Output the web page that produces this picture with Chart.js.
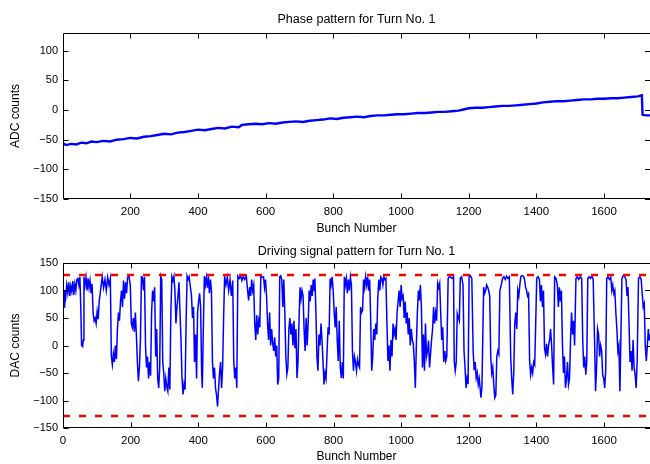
<!DOCTYPE html>
<html lang="en">
<head>
<meta charset="UTF-8">
<title>Phase and driving signal pattern</title>
<script src="https://cdn.jsdelivr.net/npm/chart.js"></script>
<style>
    body { margin: 0; width: 650px; height: 464px; overflow: hidden; background: #fff; position: relative; }
    canvas { position: absolute; left: 0; }
    #phaseChart { top: 0; }
    #driveChart { top: 236px; }
</style>
</head>
<body>
<canvas id="phaseChart" width="650" height="236"></canvas>
<canvas id="driveChart" width="650" height="228"></canvas>

<script>
// ---- data ----
const BUNCH_MAX = 1736;
const X_TICKS = [200, 400, 600, 800, 1000, 1200, 1400, 1600];
const X_TICKS_BOTTOM = [0, 200, 400, 600, 800, 1000, 1200, 1400, 1600];
const ADC_TICKS = [-150, -100, -50, 0, 50, 100];
const DAC_TICKS = [-150, -100, -50, 0, 50, 100, 150];
const DAC_LIMIT = 128;

// phase pattern (bunch, ADC counts)
const PHASE = [
    [1,-56],[10,-59],[25,-57],[40,-58],[55,-55],[70,-56],[85,-53],[100,-54],[120,-52],[140,-53],
    [160,-50],[180,-49],[200,-47],[220,-48],[240,-45],[260,-44],[280,-42],[300,-40],[320,-41],[340,-38],
    [360,-37],[380,-35],[400,-33],[420,-34],[440,-32],[460,-30],[480,-31],[500,-28],[520,-29],[530,-25],
    [550,-24],[570,-23],[590,-24],[610,-22],[630,-23],[650,-21],[670,-20],[690,-19],[710,-20],[730,-18],
    [750,-17],[770,-16],[790,-14],[810,-15],[830,-13],[850,-12],[870,-11],[890,-12],[910,-10],[930,-9],
    [950,-9],[970,-8],[990,-7],[1010,-7],[1030,-6],[1050,-5],[1070,-5],[1090,-4],[1110,-3],[1130,-3],
    [1150,-2],[1170,-1],[1185,1],[1200,3],[1220,4],[1240,4],[1260,5],[1280,6],[1300,7],[1320,7],
    [1340,8],[1360,9],[1380,10],[1400,11],[1420,13],[1440,14],[1460,15],[1480,15],[1500,16],[1520,17],
    [1540,18],[1560,18],[1580,19],[1600,19],[1620,20],[1640,20],[1660,21],[1680,22],[1700,23],[1712,25],
    [1714,-8],[1725,-9],[1736,-9]
];

// driving signal (bunch, DAC counts)
const DRIVE = [
    [1,94],[3,70],[5,100],[8,88],[11,110],[14,96],[17,115],[20,90],[23,108],[26,98],[29,117],[32,92],[35,112],[38,100],[41,120],[44,122],[47,110],[50,125],[53,58],[55,0],[58,-2],[60,10],[62,125],[65,110],[68,124],[71,100],[74,122],[77,105],[80,118],[83,95],[86,112],[89,60],[92,45],[95,50],[98,40],[101,62],[104,48],[107,80],[110,95],[113,110],[116,125],[120,105],[124,120],[128,100],[132,124],[136,110],[140,122],[143,-20],[146,-35],[149,-15],[152,-30],[155,0],[158,-25],[161,30],[164,60],[167,45],[170,80],[173,100],[176,70],[179,118],[182,85],[185,115],[188,95],[191,124],[195,126],[199,110],[202,40],[205,33],[208,50],[211,25],[214,60],[217,20],[220,-30],[223,-65],[226,-40],[229,10],[232,125],[235,124],[238,100],[241,125],[244,0],[247,-40],[250,-20],[253,-60],[256,-30],[259,-55],[262,60],[265,100],[268,80],[271,106],[274,-20],[277,30],[280,-60],[283,-77],[286,-40],[289,126],[292,120],[295,-30],[298,-50],[301,-83],[304,-60],[307,-75],[310,-83],[313,-40],[316,-80],[319,60],[322,125],[325,118],[328,126],[331,100],[334,40],[337,70],
    [340,90],[343,115],[346,60],[349,10],[352,-60],[355,-89],[358,-70],[361,-80],[364,40],[367,126],[370,120],[373,125],[376,110],[380,90],[383,50],[386,70],[389,-30],[392,20],[395,-60],[398,60],[401,80],[404,95],[407,70],[410,-50],[412,-77],[415,30],[418,126],[421,110],[424,124],[427,105],[430,126],[433,95],[436,120],[439,100],[442,-30],[445,-60],[448,-40],[451,-77],[454,-90],[457,-111],[460,-80],[463,-50],[466,-30],[469,-77],[472,-40],[475,50],[478,126],[482,110],[486,124],[490,100],[494,120],[498,90],[502,118],[505,-28],[508,-60],[511,-40],[514,-77],[517,126],[521,122],[525,127],[529,118],[533,126],[537,120],[542,126],[546,100],[549,82],[552,106],[555,90],[558,120],[561,100],[564,110],[567,40],[570,10],[573,55],[576,20],[579,45],[582,33],[585,126],[589,124],[593,125],[596,105],[599,120],[602,90],[605,40],[608,10],[611,60],[614,0],[617,30],[620,5],[623,-10],[626,15],[629,-20],[632,0],[635,-71],[638,-60],[641,125],[644,127],[647,120],[650,70],[653,120],[656,60],[659,-20],[662,-52],[665,-40],[668,30],[671,50],[674,20],[677,40],[680,0],[683,45],[686,-5],[689,30],
    [692,-59],[695,-30],[698,45],[701,106],[704,85],[707,100],[710,90],[713,30],[716,-10],[719,50],[722,0],[725,40],[728,100],[731,80],[734,110],[737,90],[740,120],[743,100],[745,122],[748,60],[751,-20],[754,-46],[757,20],[760,0],[763,40],[766,10],[769,-30],[772,-71],[775,-50],[778,-60],[781,-10],[784,33],[787,20],[790,122],[793,110],[796,125],[799,100],[802,60],[805,33],[808,70],[811,10],[814,-28],[817,45],[820,-40],[823,-59],[826,-30],[829,-60],[832,125],[835,110],[838,122],[841,95],[844,120],[847,100],[850,124],[853,110],[856,-10],[859,-46],[862,-20],[865,-30],[868,-46],[871,-25],[874,-35],[877,-40],[880,70],[883,60],[886,64],[889,120],[892,105],[895,125],[898,110],[901,125],[904,100],[907,120],[910,45],[913,-46],[916,-20],[919,30],[922,10],[925,40],[928,20],[931,88],[934,120],[937,100],[940,125],[943,122],[946,110],[949,125],[952,120],[955,122],[958,40],[961,-28],[964,0],[967,-46],[970,10],[973,-20],[976,40],[979,20],[982,30],[985,10],[988,60],[991,80],[994,100],[997,70],[1000,110],[1003,85],[1006,90],[1009,50],[1012,80],[1015,40],[1018,60],[1021,20],[1024,50],[1027,0],[1030,30],[1033,10],[1036,3],[1039,-30],
    [1042,-77],[1045,0],[1048,60],[1051,100],[1054,82],[1057,110],[1060,70],[1063,-40],[1066,20],[1069,-46],[1072,40],[1075,-20],[1078,-10],[1081,9],[1084,-40],[1087,-15],[1090,10],[1093,30],[1096,70],[1099,40],[1102,60],[1105,45],[1108,113],[1111,105],[1114,113],[1117,60],[1120,10],[1123,33],[1126,-30],[1129,-10],[1132,-28],[1135,-20],[1139,122],[1143,125],[1147,124],[1151,122],[1155,125],[1157,-28],[1160,-46],[1163,-30],[1166,58],[1169,51],[1172,45],[1175,122],[1179,125],[1183,110],[1186,-10],[1189,-40],[1192,-77],[1195,-60],[1198,-70],[1201,125],[1205,127],[1209,122],[1213,-10],[1216,-45],[1219,-30],[1222,-59],[1225,-50],[1228,-71],[1231,-60],[1234,-80],[1236,-95],[1239,-75],[1244,106],[1247,95],[1250,100],[1253,110],[1256,106],[1259,100],[1262,90],[1265,-20],[1268,-50],[1271,-40],[1274,-71],[1277,-95],[1280,-90],[1283,-20],[1286,-10],[1289,-16],[1292,100],[1296,110],[1300,122],[1304,125],[1308,120],[1312,126],[1316,122],[1320,125],[1324,-20],[1327,-60],[1330,-89],[1333,-50],[1336,40],[1339,60],[1342,30],[1345,100],[1348,90],[1351,110],[1354,125],[1358,127],[1362,126],[1365,120],[1368,106],[1371,100],[1374,90],[1377,94],
    [1380,-28],[1383,-53],[1386,-40],[1389,-50],[1392,-30],[1395,-35],[1398,40],[1401,122],[1405,125],[1409,120],[1412,80],[1415,110],[1418,70],[1421,100],[1424,-5],[1427,-16],[1430,3],[1433,-20],[1436,0],[1439,10],[1442,30],[1445,0],[1448,-40],[1451,-71],[1454,125],[1458,122],[1462,110],[1465,70],[1468,106],[1471,80],[1474,100],[1477,3],[1480,-50],[1483,-20],[1486,-77],[1489,-60],[1492,-30],[1495,-71],[1498,-60],[1501,10],[1504,60],[1507,20],[1510,45],[1513,0],[1517,122],[1521,125],[1525,120],[1530,125],[1534,122],[1537,10],[1540,-40],[1543,-20],[1546,-53],[1549,-30],[1552,122],[1556,125],[1560,122],[1564,126],[1568,120],[1572,10],[1575,-83],[1578,-40],[1581,30],[1584,20],[1587,-20],[1590,0],[1593,-10],[1596,-53],[1599,-60],[1602,-77],[1605,-45],[1608,122],[1612,125],[1616,120],[1620,124],[1623,100],[1626,110],[1629,94],[1632,100],[1635,60],[1638,30],[1641,-10],[1644,0],[1647,-83],[1650,20],[1653,122],[1657,127],[1661,125],[1665,120],[1668,90],[1671,106],[1674,40],[1677,-30],[1680,-10],[1683,-46],[1686,10],[1689,-40],[1692,-53],[1695,-77],[1698,-30],[1702,122],[1706,125],[1710,120],[1713,94],[1716,70],[1719,76],[1722,0],[1725,-28],[1728,-2],[1731,30],[1734,9],[1736,20]
];

// ---- look ----
Chart.defaults.font.family = '"Liberation Sans", Arial, Helvetica, sans-serif';
Chart.defaults.font.size = 11;
Chart.defaults.color = '#000';

const toXY = pairs => pairs.map(p => ({ x: p[0], y: p[1] }));
const minus = v => (v < 0 ? '\u2212' + Math.abs(v) : '' + v);

// matlab style box: top/left/bottom lines and inward ticks on all sides
const boxPlugin = {
    id: 'box',
    afterDatasetsDraw(chart) {
        const { ctx, chartArea: a, scales: { x, y } } = chart;
        const L = Math.round(a.left) + 0.5, T = Math.round(a.top) + 0.5, B = Math.round(a.bottom) - 0.5;
        ctx.save();
        ctx.strokeStyle = '#000';
        ctx.lineWidth = 1;
        ctx.beginPath();
        ctx.moveTo(a.right, T); ctx.lineTo(L, T); ctx.lineTo(L, B); ctx.lineTo(a.right, B);
        x.ticks.forEach(t => {
            const px = Math.round(x.getPixelForValue(t.value)) + 0.5;
            ctx.moveTo(px, B); ctx.lineTo(px, B - 5);
            ctx.moveTo(px, T); ctx.lineTo(px, T + 5);
        });
        y.ticks.forEach(t => {
            const py = Math.round(y.getPixelForValue(t.value)) + 0.5;
            ctx.moveTo(L, py); ctx.lineTo(L + 5, py);
            ctx.moveTo(a.right, py); ctx.lineTo(a.right - 5, py);
        });
        ctx.stroke();
        ctx.restore();
    }
};

function makeOptions(title, titlePad, yLabel, xMin, yMin, yMax, xTicks, yTicks, xAxisHeight) {
    return {
        responsive: false,
        animation: false,
        devicePixelRatio: 1,
        layout: { padding: 0 },
        plugins: {
            legend: { display: false },
            tooltip: { enabled: false },
            title: {
                display: true,
                text: title,
                fullSize: false,
                font: { size: 12.5, weight: 'normal' },
                padding: titlePad
            }
        },
        scales: {
            x: {
                type: 'linear',
                min: xMin,
                max: BUNCH_MAX,
                afterBuildTicks: s => { s.ticks = xTicks.map(v => ({ value: v })); },
                afterFit: s => { s.height = xAxisHeight; },
                grid: { display: false, drawTicks: false },
                border: { display: false },
                ticks: { autoSkip: false, maxRotation: 0, padding: 6, font: { size: 11.5 }, callback: v => '' + v },
                title: { display: true, text: 'Bunch Number', font: { size: 12 }, padding: { top: 0, bottom: 0 } }
            },
            y: {
                min: yMin,
                max: yMax,
                afterBuildTicks: s => { s.ticks = yTicks.map(v => ({ value: v })); },
                afterFit: s => { s.width = 63; },
                grid: { display: false, drawTicks: false },
                border: { display: false },
                ticks: { padding: 5, callback: v => minus(v) },
                title: { display: true, text: yLabel, font: { size: 12 }, padding: { top: 8, bottom: 0 } }
            }
        }
    };
}

// Phase pattern
new Chart(document.getElementById('phaseChart'), {
    type: 'line',
    data: {
        datasets: [{
            data: toXY(PHASE),
            borderColor: '#0000ff',
            borderWidth: 2.4,
            pointRadius: 0
        }]
    },
    options: makeOptions('Phase pattern for Turn No. 1', { top: 12, bottom: 6 }, 'ADC counts',
        1, -150, 130, X_TICKS, ADC_TICKS, 37),
    plugins: [boxPlugin]
});

// Driving signal with DAC limits
new Chart(document.getElementById('driveChart'), {
    type: 'line',
    data: {
        datasets: [
            {
                data: [{ x: 0, y: DAC_LIMIT }, { x: BUNCH_MAX, y: DAC_LIMIT }],
                borderColor: '#ff0000',
                borderWidth: 2.5,
                borderDash: [7, 9],
                pointRadius: 0
            },
            {
                data: [{ x: 0, y: -DAC_LIMIT }, { x: BUNCH_MAX, y: -DAC_LIMIT }],
                borderColor: '#ff0000',
                borderWidth: 2.5,
                borderDash: [7, 9],
                pointRadius: 0
            },
            {
                data: toXY(DRIVE),
                borderColor: '#0000ff',
                borderWidth: 1.5,
                pointRadius: 0
            }
        ]
    },
    options: makeOptions('Driving signal pattern for Turn No. 1', { top: 8, bottom: 4 }, 'DAC counts',
        0, -150, 150, X_TICKS_BOTTOM, DAC_TICKS, 36),
    plugins: [boxPlugin]
});
</script>
</body>
</html>
